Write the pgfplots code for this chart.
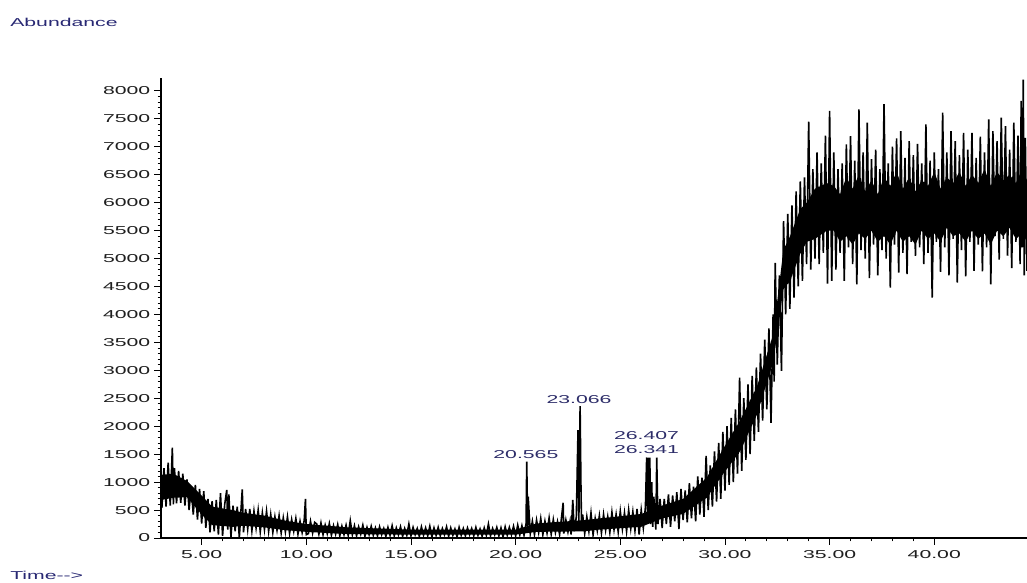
\documentclass[border=0pt]{standalone}
\usepackage{fontspec}
\setmainfont{Liberation Sans}[FakeStretch=1.85]
\usepackage{pgfplots}
\pgfplotsset{compat=1.18}
\definecolor{navy}{RGB}{40,40,115}
\definecolor{peaklbl}{RGB}{45,45,105}
\definecolor{tickgray}{RGB}{30,30,30}

\begin{document}
\begin{tikzpicture}
\fontsize{8.6}{10}\selectfont
\begin{axis}[
  scale only axis,
  width=649.5pt, height=345pt,
  xmin=3.058, xmax=44.43,
  ymin=0, ymax=8230,
  axis lines=left,
  axis line style={-, black, line width=0.8pt},
  tick align=outside,
  tick style={black, line width=0.6pt},
  major tick length=5pt, minor tick length=2.5pt,
  xtick={5,10,...,40}, minor x tick num=4,
  ytick={0,500,...,8000}, minor y tick num=4,
  scaled ticks=false,
  /pgf/number format/assume math mode=true,
  xticklabel={\pgfmathprintnumber[fixed,fixed zerofill,precision=2,assume math mode=true]{\tick}},
  yticklabel={\pgfmathprintnumber[fixed,precision=0,1000 sep={},assume math mode=true]{\tick}},
  every tick label/.append style={text=tickgray, font=\fontsize{8.6}{10}\selectfont},
  x tick label style={yshift=-1.5pt},
]

% solid core of the noise band
\addplot[fill=black, draw=none] coordinates {
(3.06,1130)(3.65,1150)(4.3,1020)(5.0,760)(5.5,560)(6.5,500)(7.0,450)(8.0,400)
(9.0,310)(10.0,250)(12.0,190)(15.0,150)(20.0,150)(21.0,260)(23.3,320)(24.0,350)
(26.0,430)(27.0,580)(28.0,700)(29.13,1080)(29.92,1600)(30.72,2100)(31.52,2700)
(32.31,3650)(32.79,5150)(33.11,5400)(33.59,5880)(33.91,6000)(34.3,6250)(34.86,6350)
(35.2,6300)(35.5,6150)(35.8,6450)(36.1,6250)(36.4,6500)(36.7,6200)(37.0,6400)(37.3,6150)
(37.6,6450)(37.9,6300)(38.2,6550)(38.5,6250)(38.8,6450)(39.1,6200)(39.4,6400)(39.7,6300)
(40.0,6550)(40.3,6250)(40.6,6450)(40.9,6350)(41.2,6550)(41.5,6300)(41.8,6500)(42.1,6350)
(42.4,6600)(42.7,6300)(43.0,6550)(43.3,6400)(43.6,6500)(43.9,6350)(44.2,6600)(44.43,6400)
(44.43,5300)(44.2,5450)(43.9,5350)(43.6,5550)(43.3,5400)(43.0,5500)(42.7,5250)(42.4,5450)
(42.1,5350)(41.8,5500)(41.5,5300)(41.2,5450)(40.9,5400)(40.6,5550)(40.3,5300)(40.0,5450)
(39.7,5350)(39.4,5500)(39.1,5250)(38.8,5400)(38.5,5300)(38.2,5500)(37.9,5250)(37.6,5400)
(37.3,5300)(37.0,5500)(36.7,5350)(36.4,5450)(36.1,5250)(35.8,5400)(35.5,5300)(35.2,5500)
(34.86,5500)(34.3,5350)(33.91,5300)(33.59,5080)
(33.11,4600)(32.79,4450)(32.31,3150)(31.52,2200)(30.72,1550)(29.92,1150)(29.13,720)
(28.0,430)(27.0,350)(26.0,200)(24.0,150)(23.3,120)(21.0,110)(20.0,60)(15.0,60)
(12.0,70)(10.0,110)(9.0,140)(8.0,190)(7.0,220)(6.5,200)(5.5,230)(5.0,420)(4.3,730)
(3.65,720)(3.06,680)
};

% TIC trace
\addplot[black, line width=1.2pt, mark=none] coordinates {
(3.06,1050)(3.1,540)(3.2,1250)(3.3,560)(3.4,1350)(3.5,580)(3.6,1615)(3.65,600)
(3.7,1250)(3.8,620)(3.9,1200)(4.0,630)(4.1,1150)(4.2,580)(4.3,1050)(4.4,500)
(4.5,920)(4.6,420)(4.7,950)(4.8,330)(4.9,880)(5.0,260)(5.1,840)(5.2,180)
(5.3,700)(5.4,100)(5.5,660)(5.6,120)(5.7,680)(5.8,60)(5.9,800)(6.0,40)
(6.1,600)(6.2,860)(6.25,150)(6.3,780)(6.4,20)(6.5,580)(6.6,120)(6.7,560)(6.8,10)
(6.94,870)(7.0,100)
(7.1,520)(7.2,160)(7.3,520)(7.4,130)(7.5,480)(7.6,180)(7.7,500)(7.8,110)
(7.9,450)(8.0,150)(8.1,480)(8.2,120)(8.3,420)(8.4,100)(8.5,380)(8.6,140)
(8.7,400)(8.8,90)(8.9,360)(9.0,110)(9.1,380)(9.2,80)(9.3,330)(9.4,120)
(9.5,350)(9.6,70)(9.7,300)(9.8,100)(9.9,320)(9.96,700)(10.0,60)(10.1,80)
(10.2,300)(10.3,90)(10.4,280)
(10.5,250)(10.6,70)(10.7,270)(10.8,60)(10.9,230)(11.0,80)(11.1,260)(11.2,50)
(11.3,220)(11.4,70)(11.5,240)(11.6,40)(11.7,210)(11.8,60)(11.9,230)(12.0,50)
(12.1,310)(12.2,60)(12.3,220)(12.4,40)(12.5,200)(12.6,70)(12.7,230)(12.8,30)
(12.9,190)(13.0,60)(13.1,210)(13.2,50)(13.3,180)(13.4,40)(13.5,200)(13.6,60)
(13.7,170)(13.8,30)(13.9,190)(14.0,50)(14.1,220)(14.2,40)(14.3,180)(14.4,60)
(14.5,200)(14.6,30)(14.7,170)(14.8,50)(14.9,250)(15.0,40)(15.1,190)(15.2,60)
(15.3,170)(15.4,30)(15.5,200)(15.6,50)(15.7,180)(15.8,40)(15.9,210)(16.0,20)
(16.1,180)(16.2,50)(16.3,190)(16.4,40)(16.5,170)(16.6,60)(16.7,200)(16.8,30)
(16.9,180)(17.0,50)(17.1,160)(17.2,20)(17.3,190)(17.4,50)(17.5,170)(17.6,40)
(17.7,180)(17.8,60)(17.9,170)(18.0,40)(18.1,190)(18.2,50)(18.3,160)(18.4,30)
(18.5,180)(18.6,50)(18.7,250)(18.8,40)(18.9,170)(19.0,60)(19.1,190)(19.2,40)
(19.3,180)(19.4,20)(19.5,200)(19.6,50)(19.7,190)(19.8,60)(19.9,210)(20.0,40)
(20.1,230)(20.2,60)(20.3,220)(20.4,50)(20.5,260)(20.53,1365)(20.58,90)(20.6,740)
(20.7,80)(20.8,300)(20.9,60)(21.0,320)(21.1,100)(21.2,350)(21.3,60)(21.4,300)
(21.5,90)(21.6,360)(21.7,70)(21.8,330)(21.9,100)(22.0,290)(22.1,60)(22.27,630)
(22.3,80)(22.4,320)(22.5,110)(22.6,300)(22.65,60)(22.73,680)(22.8,120)(22.9,380)
(22.98,1930)(23.02,300)(23.08,2360)(23.12,950)(23.15,200)(23.2,420)(23.3,80)
(23.4,380)(23.5,120)(23.6,450)(23.7,60)(23.8,350)(23.9,130)(24.0,400)(24.1,90)
(24.2,420)(24.3,140)(24.4,380)(24.5,100)(24.6,460)(24.7,150)(24.8,420)(24.9,110)
(25.0,480)(25.1,160)(25.2,450)(25.3,120)(25.4,500)(25.5,170)(25.6,470)(25.7,130)
(25.8,520)(25.9,60)(26.0,500)(26.1,180)(26.2,550)(26.26,1440)(26.3,300)
(26.34,1440)(26.37,400)(26.41,1440)(26.45,250)(26.5,1000)(26.55,200)(26.6,740)
(26.7,150)(26.74,1440)(26.8,250)(26.9,700)
(27.0,180)(27.1,700)(27.2,250)(27.3,780)(27.4,200)(27.5,760)(27.6,300)(27.7,820)
(27.8,160)(27.9,880)(28.0,320)(28.1,850)(28.2,280)(28.3,980)(28.4,350)(28.5,920)
(28.6,300)(28.7,1100)(28.8,420)(28.9,1080)(29.0,380)(29.1,1470)(29.2,500)(29.3,1300)
(29.4,560)(29.5,1550)(29.6,650)(29.7,1700)(29.8,700)(29.9,1900)(30.0,850)(30.1,2000)
(30.2,950)(30.3,2150)(30.4,1000)(30.5,2300)(30.6,1150)(30.7,2870)(30.8,1200)(30.9,2500)
(31.0,1400)(31.1,2750)(31.2,1500)(31.3,2900)(31.4,1740)(31.5,3050)(31.6,1900)(31.7,3300)
(31.8,2100)(31.9,3550)(32.0,2300)(32.1,3750)(32.2,2060)(32.3,4000)(32.35,2800)(32.4,4920)
(32.5,3100)(32.6,4700)(32.7,2990)(32.8,5670)(32.9,4000)(33.0,5800)(33.1,4100)(33.2,5950)
(33.3,4300)(33.4,6200)(33.5,4500)(33.6,6380)(33.7,4600)(33.8,6450)(33.9,4900)(34.0,7450)
(34.1,4800)(34.2,6600)(34.3,5000)(34.4,6900)(34.5,4900)(34.6,6700)(34.7,5100)(34.8,7200)
(34.9,4550)(35.0,7640)(35.1,4600)
(35.2,6900)(35.3,4800)(35.4,6600)(35.5,5100)(35.6,6700)(35.7,4600)(35.8,7040)(35.9,5200)
(36.0,7190)(36.1,4900)(36.2,6750)(36.3,4540)(36.4,7670)(36.5,5150)(36.6,6900)(36.7,5000)
(36.8,7430)(36.9,4650)(37.0,6780)(37.1,5250)(37.2,6950)(37.3,4700)(37.4,6600)(37.5,5150)
(37.6,7760)(37.7,5000)(37.8,6700)(37.9,4480)(38.0,7000)(38.1,5250)(38.2,7150)(38.3,4750)
(38.4,7280)(38.5,5100)(38.6,6800)(38.7,4720)(38.8,7100)(38.9,5300)(39.0,6850)(39.1,5050)
(39.2,7050)(39.3,5200)(39.4,6700)(39.5,4900)(39.6,7400)(39.7,5100)(39.8,6750)(39.9,4300)
(40.0,6900)(40.1,5300)(40.2,6600)(40.3,4760)(40.4,7610)(40.5,5200)(40.6,6900)(40.7,4700)
(40.8,7280)(40.9,5350)(41.0,7100)(41.1,4570)(41.2,6850)(41.3,5150)(41.4,7250)(41.5,4680)
(41.6,6950)(41.7,5300)(41.8,7250)(41.9,4780)(42.0,6800)(42.1,5250)(42.2,7180)(42.3,4770)
(42.4,6900)(42.5,5200)(42.6,7490)(42.7,4540)(42.8,7280)(42.9,5400)(43.0,7100)(43.1,4980)
(43.2,7520)(43.3,5350)(43.4,7370)(43.5,5050)(43.6,6950)(43.7,4830)(43.8,7430)(43.9,5300)
(44.0,7200)(44.1,4900)(44.15,7820)(44.2,5200)(44.25,8200)(44.3,4700)(44.35,7160)(44.43,4780)
};

% peak labels
\node[text=peaklbl, anchor=base, inner sep=0pt] at (axis cs:20.49,1431) {20.565};
\node[text=peaklbl, anchor=base, inner sep=0pt] at (axis cs:23.03,2415) {23.066};
\node[text=peaklbl, anchor=base, inner sep=0pt] at (axis cs:26.25,1771) {26.407};
\node[text=peaklbl, anchor=base, inner sep=0pt] at (axis cs:26.25,1503) {26.341};

% title
\node[text=black!85, anchor=base, inner sep=0pt, xshift=4.5pt, yshift=3.5pt]
  at (rel axis cs:0.5,1) {TIC: PS 1.D\textbackslash data.ms};
\end{axis}

\node[text=navy, anchor=base west, inner sep=0pt] at (-113.25pt,383.25pt) {Abundance};
\node[text=navy, anchor=base west, inner sep=0pt] at (-113.25pt,-30.75pt) {Time-{}-{}>};

\pgfresetboundingbox
\path (-120.75pt,-33pt) rectangle (649.5pt,403.5pt);
\end{tikzpicture}
\end{document}
